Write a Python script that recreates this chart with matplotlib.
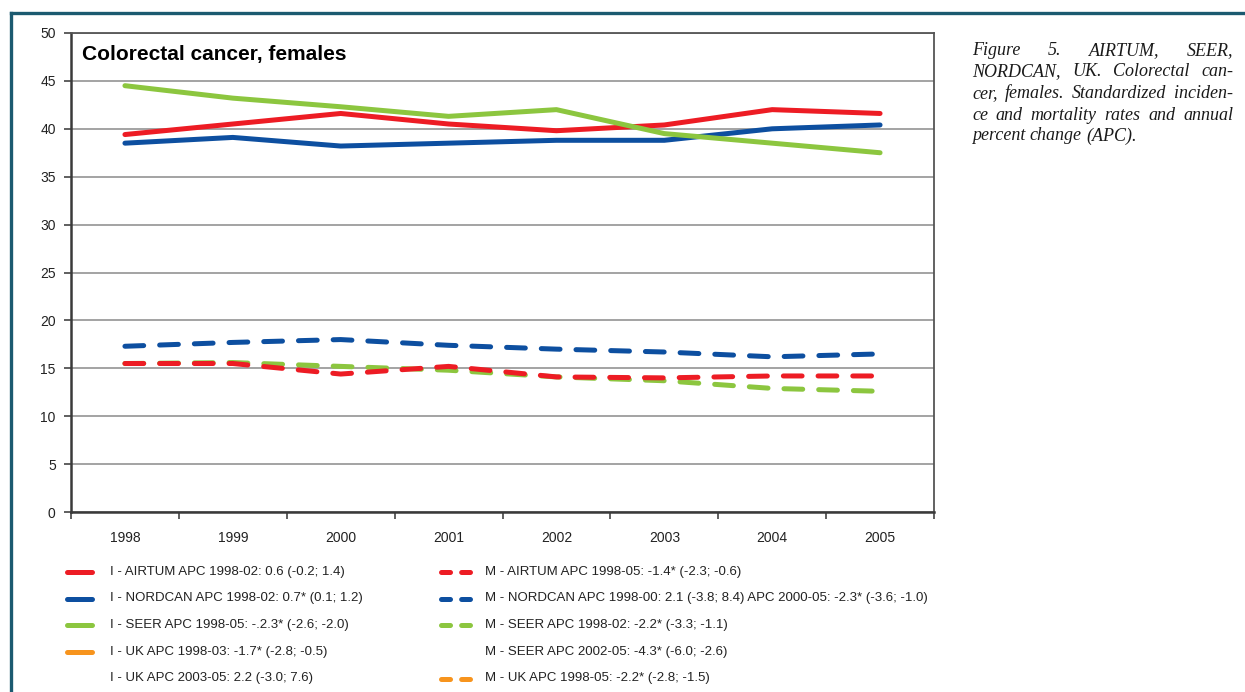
import numpy as np
import matplotlib
matplotlib.use("Agg")
from matplotlib import pyplot as plt
from matplotlib.lines import Line2D

plt.rcParams['font.family'] = ['Liberation Sans', 'DejaVu Sans']
plt.rcParams['lines.scale_dashes'] = False

W, H = 1245, 692

years = ["1998", "1999", "2000", "2001", "2002", "2003", "2004", "2005"]

# incidence (solid)
inc_airtum = [39.4, 40.5, 41.6, 40.5, 39.8, 40.4, 42.0, 41.6]
inc_nordcan = [38.5, 39.1, 38.2, 38.5, 38.8, 38.8, 40.0, 40.4]
inc_seer = [44.5, 43.2, 42.3, 41.3, 42.0, 39.5, 38.5, 37.5]

# mortality (dashed)
mort_airtum = [15.5, 15.5, 14.4, 15.2, 14.1, 14.0, 14.2, 14.2]
mort_nordcan = [17.3, 17.7, 18.0, 17.4, 17.0, 16.7, 16.2, 16.5]
mort_seer = [15.5, 15.6, 15.2, 14.8, 14.1, 13.7, 12.9, 12.6]

RED = '#ed1c24'
BLUE = '#0d4fa0'
GREEN = '#8cc63f'
ORANGE = '#f7941d'

legend_left = [
    ("I - AIRTUM APC 1998-02: 0.6 (-0.2; 1.4)", RED),
    ("I - NORDCAN APC 1998-02: 0.7* (0.1; 1.2)", BLUE),
    ("I - SEER APC 1998-05: -.2.3* (-2.6; -2.0)", GREEN),
    ("I - UK APC 1998-03: -1.7* (-2.8; -0.5)", ORANGE),
    ("I - UK APC 2003-05: 2.2 (-3.0; 7.6)", None),
]
legend_right = [
    ("M - AIRTUM APC 1998-05: -1.4* (-2.3; -0.6)", RED),
    ("M - NORDCAN APC 1998-00: 2.1 (-3.8; 8.4) APC 2000-05: -2.3* (-3.6; -1.0)", BLUE),
    ("M - SEER APC 1998-02: -2.2* (-3.3; -1.1)", GREEN),
    ("M - SEER APC 2002-05: -4.3* (-6.0; -2.6)", None),
    ("M - UK APC 1998-05: -2.2* (-2.8; -1.5)", ORANGE),
]

caption = [
    ["Figure", "5.", "AIRTUM,", "SEER,"],
    ["NORDCAN,", "UK.", "Colorectal", "can-"],
    ["cer,", "females.", "Standardized", "inciden-"],
    ["ce", "and", "mortality", "rates", "and", "annual"],
    ["percent", "change", "(APC)."],
]

LW = 3.6
DASH = (13.5, 11.5)


def fx(px):
    return px / W


def fy(py):
    return 1 - py / H


fig = plt.figure(figsize=(W / 100, H / 100), dpi=100, facecolor='white')

# page frame
frame = '#1b5a70'
fig.add_artist(Line2D([fx(11), fx(11)], [fy(13), 0], color=frame, lw=2.4))
fig.add_artist(Line2D([fx(11), 1], [fy(13), fy(13)], color=frame, lw=2.4))

ax = fig.add_axes([fx(71), fy(512), fx(934) - fx(71), fy(33) - fy(512)])
x = np.arange(len(years))

for vals, col in [(inc_airtum, RED), (inc_nordcan, BLUE), (inc_seer, GREEN)]:
    ax.plot(x, vals, color=col, lw=LW, solid_capstyle='round',
            solid_joinstyle='round', zorder=3)
for vals, col in [(mort_nordcan, BLUE), (mort_seer, GREEN), (mort_airtum, RED)]:
    ax.plot(x, vals, color=col, lw=LW, dashes=DASH, dash_capstyle='round',
            dash_joinstyle='round', zorder=3)

ax.set_xlim(-0.5, len(years) - 0.5)
ax.set_ylim(0, 50)
ax.set_yticks(np.arange(0, 51, 5))
ax.yaxis.grid(True, color='#8a8a8a', lw=1.1)
ax.set_axisbelow(True)

# ticks at category boundaries, labels at centres
ax.set_xticks(np.arange(-0.5, len(years), 1.0))
ax.set_xticklabels([])
ax.set_xticks(x, minor=True)
ax.set_xticklabels(years, minor=True)
ax.tick_params(axis='x', which='major', length=5, width=1.2, color='#444')
ax.tick_params(axis='x', which='minor', length=0, pad=14, labelsize=10,
               labelcolor='#222')
ax.tick_params(axis='y', length=5, width=1.2, color='#444', pad=6,
               labelsize=10, labelcolor='#222')

for side in ['left', 'bottom']:
    ax.spines[side].set_color('#3a3a3a')
    ax.spines[side].set_linewidth(1.8)
for side in ['top', 'right']:
    ax.spines[side].set_color('#555')
    ax.spines[side].set_linewidth(1.3)

fig.text(fx(82), fy(60), "Colorectal cancer, females", fontsize=15,
         fontweight='bold', color='black', va='baseline')

# legend, drawn by hand in two columns
rows = [572, 598.5, 625, 652, 678.5]
for (label, col), ry in zip(legend_left, rows):
    if col is not None:
        fig.add_artist(Line2D([fx(67), fx(92)], [fy(ry), fy(ry)], color=col,
                              lw=LW, solid_capstyle='round'))
    fig.text(fx(110), fy(ry), label, fontsize=9.5, color='#222', va='center')
for (label, col), ry in zip(legend_right, rows):
    if col is not None:
        fig.add_artist(Line2D([fx(440.5), fx(469.5)], [fy(ry), fy(ry)],
                              color=col, lw=LW, dashes=(6.5, 8.0),
                              dash_capstyle='round'))
    fig.text(fx(485), fy(ry), label, fontsize=9.5, color='#222', va='center')

# justified caption on the right
renderer = fig.canvas.get_renderer()
cap_kw = dict(fontsize=13, family='Liberation Serif', style='italic',
              color='#1a1a1a', va='baseline')
x0, x1 = 972, 1233
baselines = [55, 76.5, 98, 119.5, 140.5]
tmp = [fig.text(0, 0, s, **cap_kw) for s in ("a a", "aa")]
space = (tmp[0].get_window_extent(renderer).width
         - tmp[1].get_window_extent(renderer).width)
for t in tmp:
    t.remove()
for i, (words, by) in enumerate(zip(caption, baselines)):
    texts = [fig.text(0, fy(by), w, **cap_kw) for w in words]
    widths = [t.get_window_extent(renderer).width for t in texts]
    if i < len(caption) - 1:
        gap = (x1 - x0 - sum(widths)) / (len(words) - 1)
    else:
        gap = space
    cx = x0
    for t, w in zip(texts, widths):
        t.set_x(fx(cx))
        cx += w + gap

fig.savefig("out.png", dpi=100, facecolor='white')
